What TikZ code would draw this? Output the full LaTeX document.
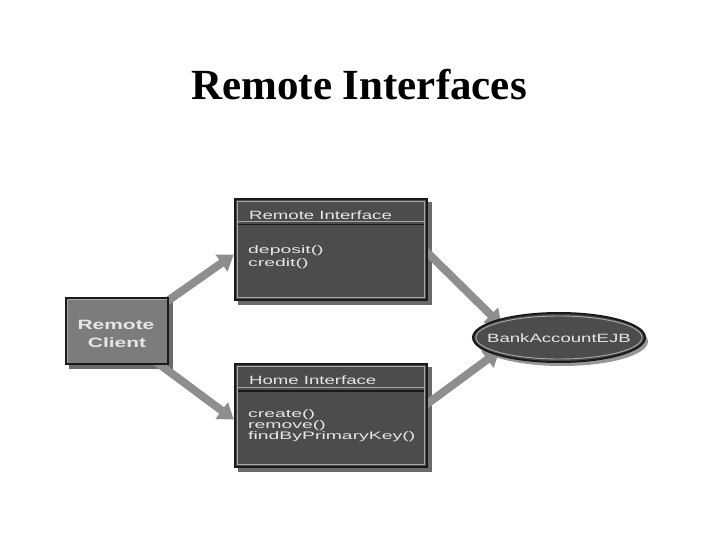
\documentclass[tikz,border=0pt]{standalone}
\usepackage{fontspec}
\newfontfamily\titlefont{Liberation Serif}
\newfontfamily\boxfont[FakeStretch=1.55]{Liberation Sans}
\newfontfamily\methfont[FakeStretch=1.78]{Liberation Sans}
\usetikzlibrary{arrows.meta,shapes.geometric,calc,backgrounds}
\definecolor{arrowgray}{HTML}{8E8E8E}
\definecolor{boxdark}{HTML}{4C4C4C}
\definecolor{boxedge}{HTML}{1A1A1A}
\definecolor{boxlight}{HTML}{A8A8A8}
\definecolor{clientfill}{HTML}{7C7C7C}
\definecolor{textlight}{HTML}{E6E6E6}
\definecolor{shadowgray}{HTML}{6A6A6A}
\begin{document}
\begin{tikzpicture}[x=1pt,y=-1pt,
  ifacebox/.style={draw=boxedge, line width=2.5pt, fill=boxdark, minimum width=192pt, inner sep=0pt},
  clientbox/.style={draw=boxedge, line width=2pt, fill=clientfill, minimum width=102pt, minimum height=66pt, inner sep=0pt},
  ejbshape/.style={ellipse, draw=boxedge, line width=2pt, fill=boxdark, minimum width=172pt, minimum height=49pt, inner sep=0pt},
  innerline/.style={draw=boxlight, line width=0.9pt},
  bigarrow/.style={draw=arrowgray, line width=8pt, -{Triangle[width=20pt,length=15pt]}},
  headtext/.style={font=\boxfont\fontsize{12}{13}\selectfont, text=textlight, inner sep=0pt, anchor=base west},
  methtext/.style={font=\methfont\fontsize{10.9}{11}\selectfont, text=textlight, inner sep=0pt, anchor=base west},
  clienttext/.style={font=\boxfont\bfseries\fontsize{13.5}{14}\selectfont, text=textlight, inner sep=0pt, anchor=base},
  ejbtext/.style={font=\boxfont\fontsize{12}{13}\selectfont, text=textlight, inner sep=0pt, anchor=base}
]
\useasboundingbox (0,0) rectangle (720,540);

% title
\node[font=\titlefont\bfseries\fontsize{43}{48}\selectfont, anchor=base, inner sep=0pt] (title) at (359,100) {Remote Interfaces};

% nodes
\node[clientbox] (client) at (117,331) {};
\node[ifacebox, minimum height=101pt] (ri) at (331,249.5) {};
\node[ifacebox, minimum height=103pt] (hi) at (331,415.5) {};
\node[ejbshape] (ejb) at (559,337.5) {};

% background, shadows and arrows behind
\begin{scope}[on background layer]
  \fill[white] (0,0) rectangle (720,540);
  \fill[shadowgray] ($(client.north west)+(4,4)$) rectangle ($(client.south east)+(4,4)$);
  \fill[shadowgray] ($(ri.north west)+(4,4)$) rectangle ($(ri.south east)+(4,4)$);
  \fill[shadowgray] ($(hi.north west)+(4,4)$) rectangle ($(hi.south east)+(4,4)$);
  \fill[shadowgray!70] ($(ejb.center)+(3,4)$) ellipse[x radius=86pt, y radius=24.5pt];
  \draw[bigarrow] ($(client.north east)+(-10,10)$) -- ($(ri.west)+(0,5)$);
  \draw[bigarrow] ($(client.south east)+(-14,-4)$) -- ($(hi.west)+(0,4)$);
  \draw[bigarrow] ($(ri.east)+(-6,-2)$) -- ($(ejb.north west)+(4,6)$);
  \draw[bigarrow] ($(hi.east)+(-6,-8)$) -- ($(ejb.south west)+(2,-5)$);
\end{scope}

% box decorations
\draw[innerline] ($(client.north west)+(2.5,2.5)$) -- ($(client.north east)+(-2.5,2.5)$);
\draw[innerline] ($(client.north west)+(2.5,2.5)$) -- ($(client.south west)+(2.5,-2.5)$);

\draw[innerline] ($(ri.north west)+(4,4)$) rectangle ($(ri.south east)+(-4,-4)$);
\draw[innerline] ($(ri.north west)+(4,24)$) -- ($(ri.north east)+(-4,24)$);
\draw[boxedge, line width=1.5pt] ($(ri.north west)+(4,27)$) -- ($(ri.north east)+(-4,27)$);

\draw[innerline] ($(hi.north west)+(4,4)$) rectangle ($(hi.south east)+(-4,-4)$);
\draw[innerline] ($(hi.north west)+(4,25)$) -- ($(hi.north east)+(-4,25)$);
\draw[boxedge, line width=1.5pt] ($(hi.north west)+(4,28)$) -- ($(hi.north east)+(-4,28)$);

\draw[innerline] (ejb.center) ellipse[x radius=83pt, y radius=21.5pt];

% texts
\node[clienttext] (clientA) at (116,329) {Remote};
\node[clienttext] (clientB) at (117,347) {Client};

\node[headtext] (rihead) at (249,219) {Remote Interface};
\node[methtext] (rim1) at (248,254) {deposit()};
\node[methtext] (rim2) at (248,266) {credit()};

\node[headtext] (hihead) at (249,384) {Home Interface};
\node[methtext] (him1) at (248,417) {create()};
\node[methtext] (him2) at (248,428) {remove()};
\node[methtext] (him3) at (248,439) {findByPrimaryKey()};

\node[ejbtext] (ejbt) at (559,342) {BankAccountEJB};
\end{tikzpicture}
\end{document}
